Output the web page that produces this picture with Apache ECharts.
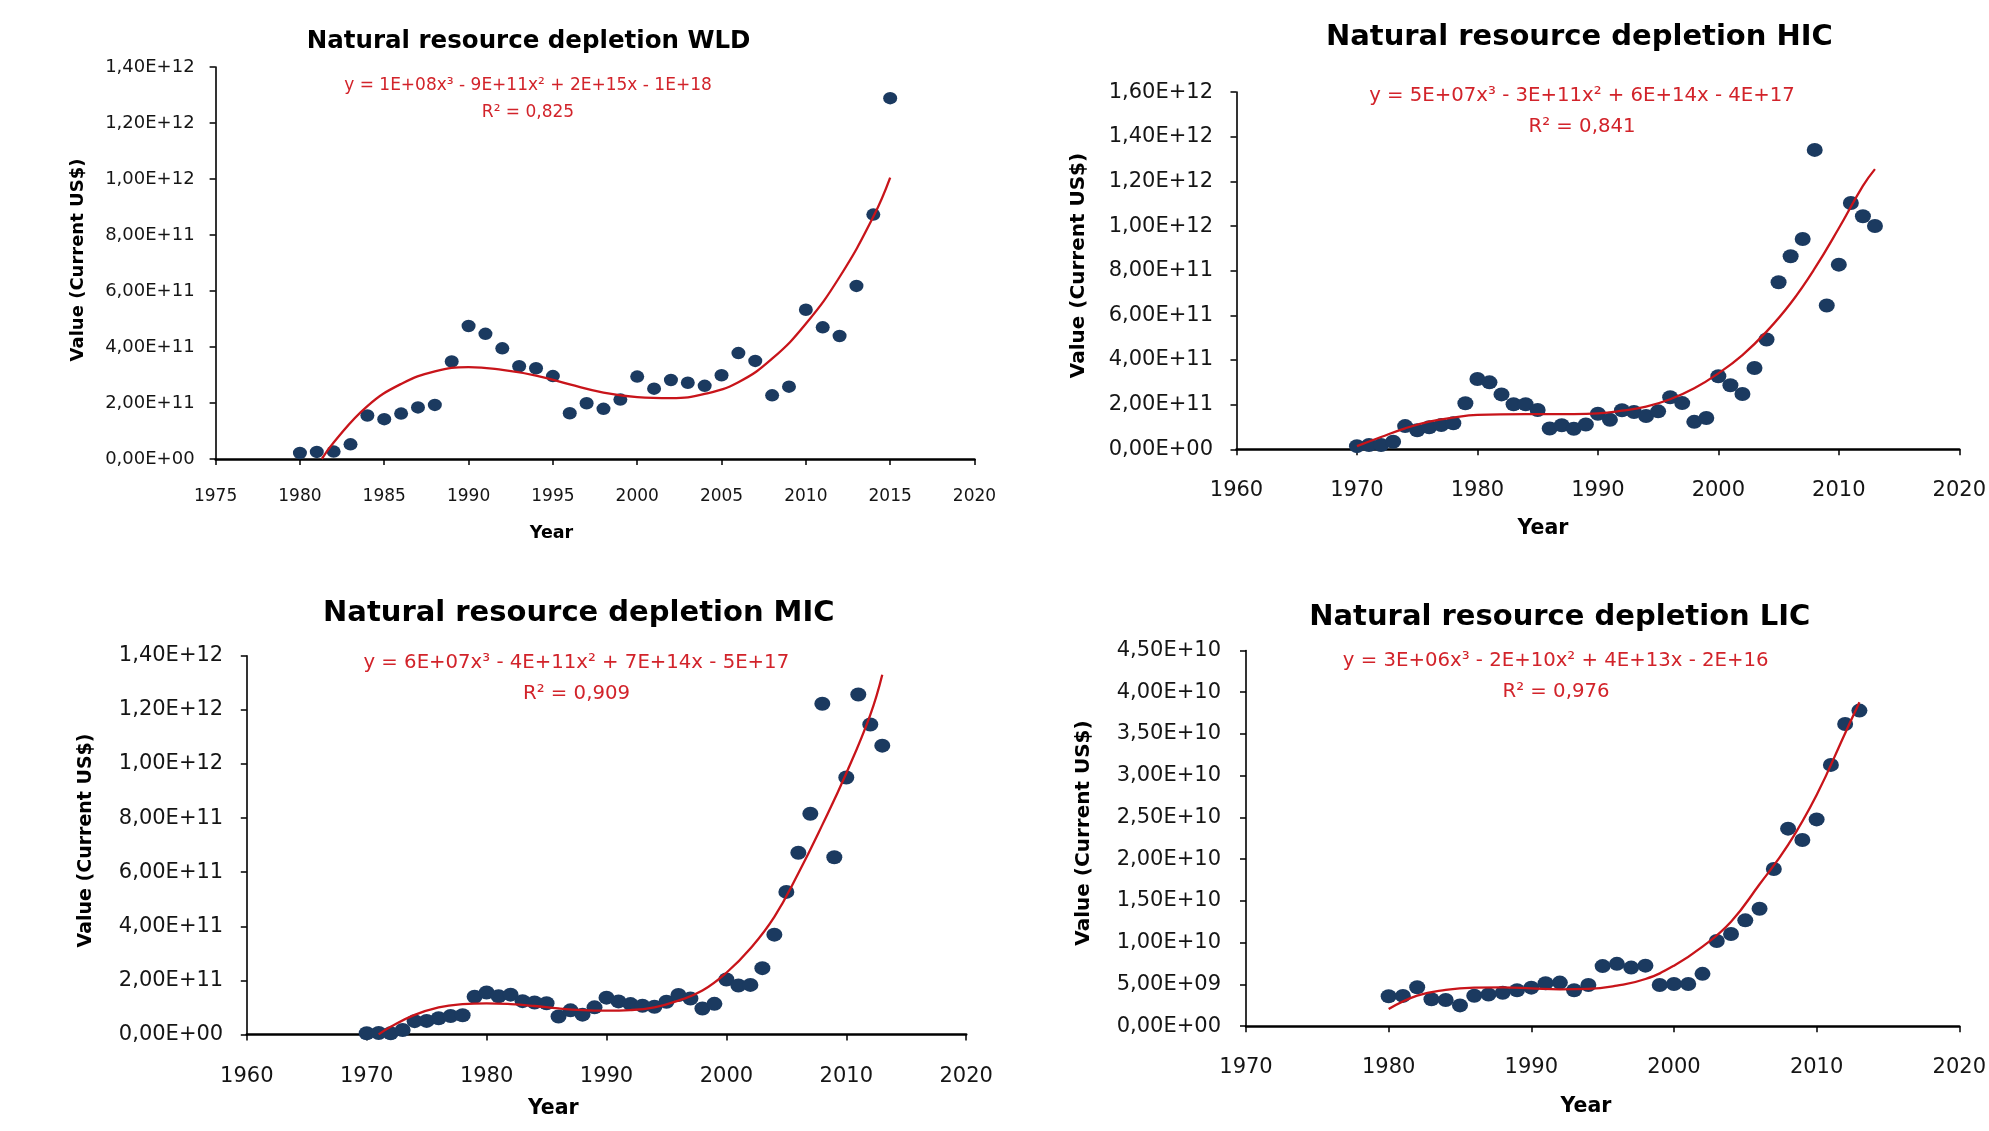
<!DOCTYPE html>
<html><head><meta charset="utf-8">
<script src="https://cdn.jsdelivr.net/npm/echarts@6/dist/echarts.min.js"></script>
<style>html,body{margin:0;padding:0;background:#fff}#c{width:1989px;height:1131px}</style>
</head><body><div id="c"></div>
<script>
// ---------- DATA ----------
const wldYears = [1980,1981,1982,1983,1984,1985,1986,1987,1988,1989,1990,1991,1992,1993,1994,1995,1996,1997,1998,1999,2000,2001,2002,2003,2004,2005,2006,2007,2008,2009,2010,2011,2012,2013,2014,2015];
const wldValues = [2.1e10,2.5e10,2.6e10,5.2e10,1.55e11,1.42e11,1.62e11,1.84e11,1.93e11,3.48e11,4.75e11,4.47e11,3.95e11,3.31e11,3.24e11,2.96e11,1.63e11,1.99e11,1.79e11,2.12e11,2.94e11,2.51e11,2.82e11,2.72e11,2.61e11,2.99e11,3.78e11,3.50e11,2.27e11,2.58e11,5.33e11,4.70e11,4.39e11,6.18e11,8.73e11,1.289e12];
const wldTrendYears = [1981.3,1982,1984,1986,1988,1990,1992,1994,1996,1998,2000,2002,2004,2006,2008,2010,2012,2014,2015];
const wldTrendValues = [0,5.9e10,1.89e11,2.68e11,3.13e11,3.28e11,3.18e11,2.98e11,2.66e11,2.37e11,2.21e11,2.17e11,2.32e11,2.74e11,3.58e11,4.83e11,6.5e11,8.65e11,1.005e12];

const hicYears = [1970,1971,1972,1973,1974,1975,1976,1977,1978,1979,1980,1981,1982,1983,1984,1985,1986,1987,1988,1989,1990,1991,1992,1993,1994,1995,1996,1997,1998,1999,2000,2001,2002,2003,2004,2005,2006,2007,2008,2009,2010,2011,2012,2013];
const hicValues = [1.4e10,1.9e10,1.9e10,3.4e10,1.04e11,8.5e10,9.9e10,1.09e11,1.17e11,2.06e11,3.15e11,3.0e11,2.46e11,2.02e11,2.02e11,1.76e11,9.3e10,1.08e11,9.2e10,1.11e11,1.59e11,1.32e11,1.75e11,1.67e11,1.49e11,1.70e11,2.33e11,2.07e11,1.23e11,1.40e11,3.27e11,2.87e11,2.48e11,3.64e11,4.92e11,7.48e11,8.65e11,9.42e11,1.341e12,6.44e11,8.27e11,1.103e12,1.044e12,1.0e12];
const hicTrendYears = [1970,1972,1974,1976,1978,1980,1984,1988,1990,1992,1994,1996,1998,2000,2002,2004,2006,2008,2010,2012,2013];
const hicTrendValues = [1.4e10,5.5e10,9.4e10,1.24e11,1.42e11,1.54e11,1.58e11,1.58e11,1.61e11,1.73e11,1.91e11,2.24e11,2.73e11,3.40e11,4.22e11,5.27e11,6.54e11,8.1e11,9.9e11,1.18e12,1.255e12];

const micYears = [1970,1971,1972,1973,1974,1975,1976,1977,1978,1979,1980,1981,1982,1983,1984,1985,1986,1987,1988,1989,1990,1991,1992,1993,1994,1995,1996,1997,1998,1999,2000,2001,2002,2003,2004,2005,2006,2007,2008,2009,2010,2011,2012,2013];
const micValues = [4e9,5e9,4e9,1.65e10,4.9e10,5.0e10,6.0e10,6.8e10,7.1e10,1.39e11,1.55e11,1.41e11,1.47e11,1.23e11,1.18e11,1.15e11,6.6e10,8.9e10,7.3e10,1.0e11,1.36e11,1.22e11,1.12e11,1.06e11,1.02e11,1.21e11,1.46e11,1.33e11,9.6e10,1.13e11,2.03e11,1.81e11,1.83e11,2.45e11,3.69e11,5.27e11,6.72e11,8.16e11,1.223e12,6.55e11,9.5e11,1.257e12,1.146e12,1.068e12];
const micTrendYears = [1971,1972,1974,1976,1978,1980,1982,1984,1986,1988,1990,1992,1994,1996,1998,2000,2002,2004,2006,2008,2010,2012,2013];
const micTrendValues = [0,2.8e10,7.2e10,1.0e11,1.12e11,1.15e11,1.12e11,1.05e11,9.6e10,9.0e10,8.8e10,9.0e10,1.0e11,1.25e11,1.62e11,2.28e11,3.18e11,4.35e11,5.96e11,7.75e11,9.66e11,1.182e12,1.33e12];

const licYears = [1980,1981,1982,1983,1984,1985,1986,1987,1988,1989,1990,1991,1992,1993,1994,1995,1996,1997,1998,1999,2000,2001,2002,2003,2004,2005,2006,2007,2008,2009,2010,2011,2012,2013];
const licValues = [3.59e9,3.63e9,4.66e9,3.23e9,3.13e9,2.49e9,3.65e9,3.8e9,4.0e9,4.31e9,4.62e9,5.14e9,5.22e9,4.31e9,4.93e9,7.2e9,7.47e9,7.02e9,7.25e9,4.93e9,5.06e9,5.06e9,6.27e9,1.02e10,1.105e10,1.268e10,1.407e10,1.883e10,2.366e10,2.23e10,2.477e10,3.13e10,3.62e10,3.78e10];
const licTrendYears = [1980,1982,1984,1986,1988,1990,1992,1994,1996,1998,2000,2002,2004,2006,2008,2010,2012,2013];
const licTrendValues = [2.06e9,3.66e9,4.34e9,4.62e9,4.66e9,4.54e9,4.42e9,4.46e9,4.86e9,5.65e9,7.25e9,9.53e9,1.252e10,1.70e10,2.171e10,2.77e10,3.51e10,3.88e10];

const titles = ['Natural resource depletion WLD','Natural resource depletion HIC','Natural resource depletion MIC','Natural resource depletion LIC'];
const equations = ['y = 1E+08x³ - 9E+11x² + 2E+15x - 1E+18','y = 5E+07x³ - 3E+11x² + 6E+14x - 4E+17','y = 6E+07x³ - 4E+11x² + 7E+14x - 5E+17','y = 3E+06x³ - 2E+10x² + 4E+13x - 2E+16'];
const rSquared = ['R² = 0,825','R² = 0,841','R² = 0,909','R² = 0,976'];
const xTitle = 'Year';
const yTitle = 'Value (Current US$)';

// ---------- LAYOUT ----------
const panels = [
  {years: wldYears, values: wldValues, tY: wldTrendYears, tV: wldTrendValues,
   grid: {left: 215.6, top: 67.1, width: 758.9, height: 391.8},
   x: {min: 1975, max: 2020, interval: 5}, y: {min: 0, max: 1.4e12, interval: 2e11},
   xtick: 17, ytick: 18, xm: 29, ym: 21, dot: [14, 12.5],
   title: [528.6, 42, 24.5], eq: [528, 85.5, 17], r2: [528, 113], yt: [78.4, 260, 18], xt: [551.5, 533.5, 17.5]},
  {years: hicYears, values: hicValues, tY: hicTrendYears, tV: hicTrendValues,
   grid: {left: 1236.5, top: 92.1, width: 724.1, height: 357.2},
   x: {min: 1960, max: 2020, interval: 10}, y: {min: 0, max: 1.6e12, interval: 2e11},
   xtick: 21, ytick: 21, xm: 31, ym: 23.5, dot: [16, 14],
   title: [1579.4, 37, 29], eq: [1582, 95.5, 19.7], r2: [1582, 126.5], yt: [1078.8, 265.5, 20], xt: [1543, 529, 20.5]},
  {years: micYears, values: micValues, tY: micTrendYears, tV: micTrendValues,
   grid: {left: 246.8, top: 655.9, width: 719.4, height: 378.5},
   x: {min: 1960, max: 2020, interval: 10}, y: {min: 0, max: 1.4e12, interval: 2e11},
   xtick: 21, ytick: 21, xm: 31.4, ym: 23.6, dot: [16, 14],
   title: [578.8, 613.4, 29], eq: [576.3, 663, 19.7], r2: [576.5, 693.5], yt: [86, 840.5, 19], xt: [553.3, 1108.6, 20.5]},
  {years: licYears, values: licValues, tY: licTrendYears, tV: licTrendValues,
   grid: {left: 1246, top: 650.5, width: 714.6, height: 375.7},
   x: {min: 1970, max: 2020, interval: 10}, y: {min: 0, max: 4.5e10, interval: 5e9},
   xtick: 21, ytick: 21, xm: 30.6, ym: 25, dot: [16, 14],
   title: [1559.8, 617, 29], eq: [1555.7, 661.2, 19.7], r2: [1556, 691.6], yt: [1084.2, 833, 20], xt: [1586, 1106.5, 20.5]}
];

const FONT = '"DejaVu Sans", "Liberation Sans", sans-serif';
const DOT = '#1b3a60';
const TREND = '#c8141a';
const EQ = '#d2232a';

function sci(v) {
  if (Math.abs(v) < 1e-3) return '0,00E+00';
  let e = Math.floor(Math.log10(Math.abs(v)) + 1e-9);
  let m = v / Math.pow(10, e);
  let s = m.toFixed(2);
  if (s === '10.00') { e += 1; s = (m / 10).toFixed(2); }
  return s.replace('.', ',') + 'E+' + (e < 10 ? '0' + e : String(e));
}

function txt(x, y, text, size, color, bold, rot) {
  return {
    type: 'text', x: x, y: y, rotation: rot || 0, silent: true,
    style: {
      text: text, fill: color, font: (bold ? 'bold ' : '') + size + 'px ' + FONT,
      align: 'center', verticalAlign: 'middle', textAlign: 'center', textVerticalAlign: 'middle'
    }
  };
}

const option = {
  animation: false,
  backgroundColor: '#ffffff',
  grid: [], xAxis: [], yAxis: [], series: [], graphic: []
};

panels.forEach((p, i) => {
  option.grid.push(Object.assign({containLabel: false}, p.grid));
  option.xAxis.push({
    type: 'value', gridIndex: i, min: p.x.min, max: p.x.max, interval: p.x.interval,
    axisLine: {show: true, onZero: false, lineStyle: {color: '#000', width: 2.5}},
    axisTick: {show: true, inside: false, length: 6, lineStyle: {color: '#000', width: 1.5}},
    axisLabel: {show: true, margin: p.xm, color: '#151515', fontSize: p.xtick, fontFamily: FONT,
      formatter: v => String(Math.round(v))},
    splitLine: {show: false}
  });
  option.yAxis.push({
    type: 'value', gridIndex: i, min: p.y.min, max: p.y.max, interval: p.y.interval,
    axisLine: {show: true, lineStyle: {color: '#000', width: 1.6}},
    axisTick: {show: true, inside: false, length: 6, lineStyle: {color: '#000', width: 1.5}},
    axisLabel: {show: true, margin: p.ym, color: '#151515', fontSize: p.ytick, fontFamily: FONT, formatter: sci},
    splitLine: {show: false}
  });
  option.series.push({
    type: 'scatter', xAxisIndex: i, yAxisIndex: i, symbol: 'circle', symbolSize: p.dot,
    itemStyle: {color: DOT, opacity: 1}, z: 2,
    data: p.years.map((y, k) => [y, p.values[k]])
  });
  option.series.push({
    type: 'line', xAxisIndex: i, yAxisIndex: i, showSymbol: false, symbol: 'none',
    smooth: 0.45,
    lineStyle: {color: TREND, width: 2.3}, z: 3, clip: true,
    data: p.tY.map((y, k) => [y, p.tV[k]])
  });
  option.graphic.push(txt(p.title[0], p.title[1], titles[i], p.title[2], '#000', true));
  option.graphic.push(txt(p.eq[0], p.eq[1], equations[i], p.eq[2], EQ, false));
  option.graphic.push(txt(p.r2[0], p.r2[1], rSquared[i], p.eq[2], EQ, false));
  option.graphic.push(txt(p.yt[0], p.yt[1], yTitle, p.yt[2], '#000', true, Math.PI / 2));
  option.graphic.push(txt(p.xt[0], p.xt[1], xTitle, p.xt[2], '#000', true));
});

const chart = echarts.init(document.getElementById('c'), null, {renderer: 'canvas'});
chart.setOption(option);
</script>
</body></html>
